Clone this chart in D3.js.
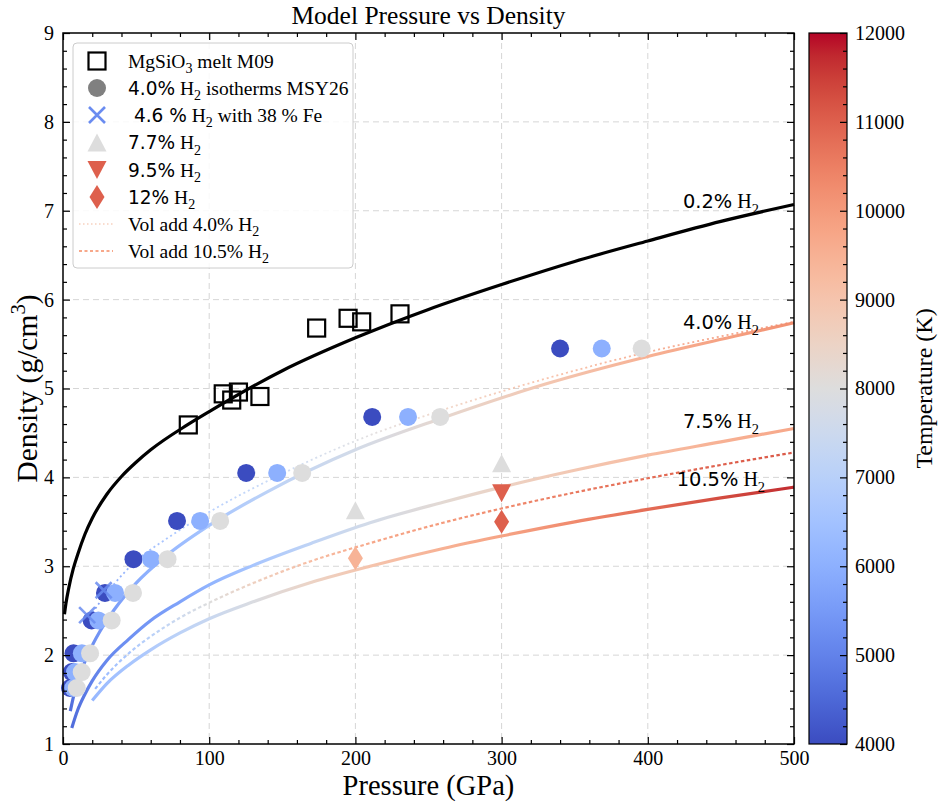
<!DOCTYPE html>
<html><head><meta charset="utf-8">
<script src="https://cdn.jsdelivr.net/npm/d3@7"></script>
<style>body{margin:0;background:#fff} svg text{font-family:'Liberation Serif',serif;fill:#000}</style>
</head><body><svg id="chart" width="939" height="802"></svg>
<script>
// ---------------- DATA ----------------
const xTicks = [0,100,200,300,400,500];
const yTicks = [1,2,3,4,5,6,7,8,9];
const tempTicks = [4000,5000,6000,7000,8000,9000,10000,11000,12000];

// MgSiO3 melt M09 (squares)
const m09P   = [85.7,109.6,115.4,120,134.7,173.5,195,204.3,230.5];
const m09Rho = [4.59,4.94,4.87,4.96,4.91,5.68,5.79,5.75,5.84];

// 4.0% H2 isotherms MSY26 (circles), one pressure row per isotherm
const isoTemps = [4000,6000,8000];
const isoRho   = [1.63,1.81,2.02,2.39,2.70,3.08,3.51,4.05,4.68,5.45];
const isoP4000 = [4.8,6.0,7.2,19.6,28.7,48.2,78.0,125.3,211.5,340];
const isoP6000 = [7.0,8.2,12.9,24.2,35.6,60.2,93.8,146.5,236,368.5];
const isoP8000 = [9.4,12.8,18.5,33.3,47.9,71.5,107.5,163.6,258,395.8];

// 4.6% H2 with 38% Fe (crosses)
const feP = [16.5,27.8], feRho = [2.45,2.73], feT = [5200,5200];
// 7.7% H2 (triangles up)
const h77P = [200,300], h77Rho = [3.63,4.16], h77T = [8000,8000];
// 9.5% H2 (triangles down)
const h95P = [300], h95Rho = [3.82], h95T = [11000];
// 12% H2 (diamonds)
const h12P = [200,300], h12Rho = [3.09,3.50], h12T = [9450,11000];

// model curves
const c02P   = [1,2,4,7,10,15,20,30,40,50,60,85,100,150,200,250,300,350,400,450,500];
const c02Rho = [2.46,2.58,2.76,2.97,3.13,3.36,3.54,3.81,4.01,4.17,4.31,4.59,4.74,5.20,5.57,5.89,6.17,6.43,6.66,6.88,7.07];

const c40P   = [5,8,12,18,25,35,50,70,100,140,200,260,330,400,460,500];
const c40Rho = [1.37,1.59,1.80,2.04,2.26,2.51,2.81,3.11,3.46,3.84,4.31,4.67,5.05,5.36,5.59,5.74];
const c40T   = [4600,4800,5000,5200,5400,5600,5900,6200,6600,7100,7700,8300,8900,9500,9900,10200];

const v40P   = [15,20,25,35,50,70,100,140,200,260,330,400,460,500];
const v40Rho = [2.33,2.47,2.59,2.80,3.06,3.30,3.61,3.96,4.41,4.76,5.11,5.41,5.62,5.75];
const v40T   = [5000,5200,5400,5700,6000,6300,6700,7200,7900,8600,9300,9800,10100,10300];

const c75P   = [6,10,15,20,30,45,60,80,100,130,170,210,260,300,350,400,450,500];
const c75Rho = [1.18,1.38,1.56,1.71,1.94,2.18,2.39,2.60,2.79,3.01,3.26,3.49,3.72,3.89,4.08,4.25,4.40,4.55];
const c75T   = [4600,4700,4850,5000,5150,5300,5450,5700,6100,6600,7200,7700,8200,8500,8900,9200,9500,9700];

const c105P   = [20,30,45,60,80,100,130,170,210,260,300,350,400,450,500];
const c105Rho = [1.49,1.68,1.89,2.06,2.25,2.41,2.60,2.82,3.00,3.20,3.34,3.50,3.64,3.77,3.89];
const c105T   = [6200,6400,6600,6800,7100,7400,7900,8500,9000,9500,9800,10300,10800,11300,11700];

const v105P   = [22,30,45,60,80,100,130,170,210,260,300,350,400,450,500];
const v105Rho = [1.62,1.78,2.02,2.21,2.42,2.59,2.81,3.06,3.26,3.49,3.65,3.83,3.99,4.14,4.28];
const v105T   = [6200,6400,6700,7000,7500,8000,8600,9200,9700,10000,10300,10600,10800,11000,11100];

const curveLabels = ["0.2%","4.0%","7.5%","10.5%"];
const curveLabelP = [450,450,450,450];
const curveLabelRho = [7.03,5.67,4.56,3.90];

// coolwarm colormap stops (style)
const coolwarm = ["#3b4cc0","#445acc","#4d68d7","#5775e1","#6282ea","#6c8ef1","#779af7","#82a5fb","#8db0fe","#98b9ff","#a3c2ff","#aec9fd","#b8d0f9","#c2d5f4","#ccd9ee","#d5dbe6","#dddddd","#e5d8d1","#ecd3c5","#f1ccb9","#f5c4ad","#f7bba0","#f7b194","#f7a687","#f49a7b","#f18d6f","#ec7f63","#e57058","#de604d","#d55042","#cb3e38","#c0282f","#b40426"];

// ---------------- SETUP ----------------
const svg = d3.select("#chart");
const L = 63, R = 794, T = 33, B = 744;
const x = d3.scaleLinear().domain([0,500]).range([L,R]);
const y = d3.scaleLinear().domain([1,9]).range([B,T]);
const tMin = 4000, tMax = 12000;
const cmap = d3.scaleLinear()
  .domain(coolwarm.map((c,i)=> tMin + (tMax-tMin)*i/(coolwarm.length-1)))
  .range(coolwarm).interpolate(d3.interpolateRgb).clamp(true);
const defs = svg.append("defs");
const SERIF = "'Liberation Serif', serif", SANS = "'DejaVu Sans', sans-serif";

function rich(g, parts, size, sansScale) {
  let shift = 0;
  const ss = sansScale || 1;
  parts.forEach(([t,k])=>{
    const ts = g.append("tspan").text(t);
    if (k === "n") ts.style("font-family", SANS);
    else ts.style("font-family", SERIF);
    if (k === "b") { ts.attr("dy", size*0.3 - shift).style("font-size", (size*0.72)+"px"); shift = size*0.3; }
    else if (k === "p") { ts.attr("dy", -size*0.4 - shift).style("font-size", (size*0.7)+"px"); shift = -size*0.4; }
    else { if (shift !== 0) { ts.attr("dy", -shift); shift = 0; } ts.style("font-size", (k==="n"? size*ss : size)+"px"); }
  });
}

// ---------------- GRID ----------------
const grid = svg.append("g");
grid.selectAll(".gx").data(xTicks.slice(1,-1)).join("line")
  .attr("x1",d=>x(d)).attr("x2",d=>x(d)).attr("y1",T).attr("y2",B)
  .attr("stroke","#d6d6d6").attr("stroke-width",1).attr("stroke-dasharray","6,4");
grid.selectAll(".gy").data(yTicks.slice(1,-1)).join("line")
  .attr("y1",d=>y(d)).attr("y2",d=>y(d)).attr("x1",L).attr("x2",R)
  .attr("stroke","#d6d6d6").attr("stroke-width",1).attr("stroke-dasharray","6,4");

// ---------------- CURVES ----------------
const lineGen = d3.line().x(d=>x(d[0])).y(d=>y(d[1])).curve(d3.curveMonotoneX);
function gradFor(id, P, Tarr) {
  const x1 = x(P[0]), x2 = x(P[P.length-1]);
  const gr = defs.append("linearGradient").attr("id", id)
    .attr("gradientUnits","userSpaceOnUse").attr("x1",x1).attr("x2",x2).attr("y1",0).attr("y2",0);
  P.forEach((p,i)=> gr.append("stop").attr("offset",(x(p)-x1)/(x2-x1)).attr("stop-color",cmap(Tarr[i])));
  return "url(#"+id+")";
}
const plot = svg.append("g");
function drawCurve(id, P, Rho, Tarr, w, dash, op) {
  const stroke = Tarr ? gradFor(id, P, Tarr) : "#000";
  plot.append("path").datum(P.map((p,i)=>[p,Rho[i]]))
    .attr("d", lineGen).attr("fill","none").attr("stroke", stroke)
    .attr("stroke-width", w).attr("stroke-dasharray", dash || null)
    .attr("stroke-opacity", op || 1);
}
drawCurve("g02", c02P, c02Rho, null, 3.2);
drawCurve("g40", c40P, c40Rho, c40T, 3.2);
drawCurve("g75", c75P, c75Rho, c75T, 3.2);
drawCurve("g105", c105P, c105Rho, c105T, 3.2);
drawCurve("v40", v40P, v40Rho, v40T, 1.8, "2,3", 0.85);
drawCurve("v105", v105P, v105Rho, v105T, 2.2, "3.5,2.5");

// ---------------- MARKERS ----------------
const mk = svg.append("g");
const sq = 8.5;
mk.selectAll(".sq").data(m09P.map((p,i)=>[p,m09Rho[i]])).join("rect")
  .attr("x",d=>x(d[0])-sq).attr("y",d=>y(d[1])-sq).attr("width",2*sq).attr("height",2*sq)
  .attr("fill","none").attr("stroke","#000").attr("stroke-width",2.2);
[isoP4000, isoP6000, isoP8000].forEach((row,k)=>{
  mk.selectAll(".c"+k).data(row.map((p,i)=>[p,isoRho[i]])).join("circle")
    .attr("cx",d=>x(d[0])).attr("cy",d=>y(d[1])).attr("r",9).attr("fill",cmap(isoTemps[k]));
});
const cr = 8;
feP.forEach((p,i)=>{
  const cx = x(p), cy = y(feRho[i]);
  mk.append("path").attr("d",`M${cx-cr},${cy-cr}L${cx+cr},${cy+cr}M${cx-cr},${cy+cr}L${cx+cr},${cy-cr}`)
    .attr("stroke",cmap(feT[i])).attr("stroke-width",2.6).attr("stroke-opacity",0.85);
});
const triUp = (w,h)=>`M0,${-h}L${w},${h}L${-w},${h}Z`;
const triDn = (w,h)=>`M0,${h}L${w},${-h}L${-w},${-h}Z`;
const dia = (w,h)=>`M0,${-h}L${w},0L0,${h}L${-w},0Z`;
h77P.forEach((p,i)=> mk.append("path").attr("d",triUp(9.5,9)).attr("transform",`translate(${x(p)},${y(h77Rho[i])})`).attr("fill",cmap(h77T[i])));
h95P.forEach((p,i)=> mk.append("path").attr("d",triDn(9.5,9)).attr("transform",`translate(${x(p)},${y(h95Rho[i])})`).attr("fill",cmap(h95T[i])));
h12P.forEach((p,i)=> mk.append("path").attr("d",dia(7.5,12)).attr("transform",`translate(${x(p)},${y(h12Rho[i])})`).attr("fill",cmap(h12T[i])));

// curve labels
curveLabels.forEach((lab,i)=>{
  const t = svg.append("text").attr("x",x(curveLabelP[i])).attr("y",y(curveLabelRho[i])).attr("text-anchor","middle");
  rich(t, [[lab,"n"],[" H","s"],["2","b"]], 20, 0.97);
});

// ---------------- AXES ----------------
function styleAxis(g){ g.select(".domain").remove(); g.selectAll("line").attr("stroke","#000").attr("stroke-width",1.2); g.selectAll("text").style("font-family",SERIF).style("font-size","20px").attr("fill","#000"); }
const minorX = d3.range(0,501,20).filter(v=>v%100!==0);
const minorY = d3.range(10,91,2).map(v=>v/10).filter(v=>Math.abs(v-Math.round(v))>1e-6);
svg.append("g").attr("transform",`translate(0,${B})`).call(d3.axisBottom(x).tickValues(xTicks).tickSize(-7).tickPadding(7)).call(styleAxis);
svg.append("g").attr("transform",`translate(0,${B})`).call(d3.axisBottom(x).tickValues(minorX).tickSize(-4).tickFormat("")).call(styleAxis);
svg.append("g").attr("transform",`translate(0,${T})`).call(d3.axisTop(x).tickValues(xTicks).tickSize(-7).tickFormat("")).call(styleAxis);
svg.append("g").attr("transform",`translate(0,${T})`).call(d3.axisTop(x).tickValues(minorX).tickSize(-4).tickFormat("")).call(styleAxis);
svg.append("g").attr("transform",`translate(${L},0)`).call(d3.axisLeft(y).tickValues(yTicks).tickSize(-7).tickPadding(9)).call(styleAxis);
svg.append("g").attr("transform",`translate(${L},0)`).call(d3.axisLeft(y).tickValues(minorY).tickSize(-4).tickFormat("")).call(styleAxis);
svg.append("g").attr("transform",`translate(${R},0)`).call(d3.axisRight(y).tickValues(yTicks).tickSize(-7).tickFormat("")).call(styleAxis);
svg.append("g").attr("transform",`translate(${R},0)`).call(d3.axisRight(y).tickValues(minorY).tickSize(-4).tickFormat("")).call(styleAxis);
svg.append("rect").attr("x",L).attr("y",T).attr("width",R-L).attr("height",B-T).attr("fill","none").attr("stroke","#000").attr("stroke-width",1.5);

// ---------------- LEGEND ----------------
const lg = svg.append("g");
lg.append("rect").attr("x",73).attr("y",43).attr("width",280).attr("height",225).attr("rx",4)
  .attr("fill","#fff").attr("fill-opacity",0.85).attr("stroke","#cccccc").attr("stroke-width",1);
const rowY = [61,88,115,142.5,170,197,224,251];
const mx = 97, tx = 128;
lg.append("rect").attr("x",mx-sq).attr("y",rowY[0]-sq).attr("width",2*sq).attr("height",2*sq).attr("fill","none").attr("stroke","#000").attr("stroke-width",2.2);
lg.append("circle").attr("cx",mx).attr("cy",rowY[1]).attr("r",9).attr("fill","#808080");
lg.append("path").attr("d",`M${mx-cr},${rowY[2]-cr}L${mx+cr},${rowY[2]+cr}M${mx-cr},${rowY[2]+cr}L${mx+cr},${rowY[2]-cr}`).attr("stroke",cmap(5200)).attr("stroke-width",2.6);
lg.append("path").attr("d",triUp(9.5,9)).attr("transform",`translate(${mx},${rowY[3]})`).attr("fill",cmap(8000));
lg.append("path").attr("d",triDn(9.5,9)).attr("transform",`translate(${mx},${rowY[4]})`).attr("fill",cmap(11000));
lg.append("path").attr("d",dia(7.5,12)).attr("transform",`translate(${mx},${rowY[5]})`).attr("fill",cmap(11000));
lg.append("line").attr("x1",79).attr("x2",113).attr("y1",rowY[6]).attr("y2",rowY[6]).attr("stroke",cmap(9000)).attr("stroke-width",1.6).attr("stroke-dasharray","1.5,2.5").attr("stroke-opacity",0.8);
lg.append("line").attr("x1",79).attr("x2",113).attr("y1",rowY[7]).attr("y2",rowY[7]).attr("stroke",cmap(9700)).attr("stroke-width",2).attr("stroke-dasharray","3,2.5");
const legTexts = [
  [["MgSiO","s"],["3","b"],[" melt M09","s"]],
  [["4.0%","n"],[" H","s"],["2","b"],[" isotherms MSY26","s"]],
  [["\u00a04.6 %","n"],[" H","s"],["2","b"],[" with 38 % Fe","s"]],
  [["7.7%","n"],[" H","s"],["2","b"]],
  [["9.5%","n"],[" H","s"],["2","b"]],
  [["12%","n"],[" H","s"],["2","b"]],
  [["Vol add 4.0% H","s"],["2","b"]],
  [["Vol add 10.5% H","s"],["2","b"]]
];
legTexts.forEach((parts,i)=>{
  const t = lg.append("text").attr("x",tx).attr("y",rowY[i]+6.5).style("white-space","pre");
  rich(t, parts, 19.5, 0.95);
});

// ---------------- TITLES ----------------
svg.append("text").attr("x",(L+R)/2).attr("y",24).attr("text-anchor","middle").style("font-size","25.5px").text("Model Pressure vs Density");
svg.append("text").attr("x",(L+R)/2).attr("y",795).attr("text-anchor","middle").style("font-size","28.5px").text("Pressure (GPa)");
const yl = svg.append("text").attr("transform",`translate(37,${(T+B)/2}) rotate(-90)`).attr("text-anchor","middle");
rich(yl, [["Density (g/cm","s"],["3","p"],[")","s"]], 29.5);

// ---------------- COLORBAR ----------------
const cbL = 809, cbR = 847;
const tScale = d3.scaleLinear().domain([tMin,tMax]).range([B,T]);
const cg = defs.append("linearGradient").attr("id","cbar").attr("x1",0).attr("x2",0).attr("y1",1).attr("y2",0);
coolwarm.forEach((c,i)=> cg.append("stop").attr("offset",i/(coolwarm.length-1)).attr("stop-color",c));
svg.append("rect").attr("x",cbL).attr("y",T).attr("width",cbR-cbL).attr("height",B-T).attr("fill","url(#cbar)");
const minorT = d3.range(tMin, tMax+1, 200).filter(v=>v%1000!==0);
svg.append("g").attr("transform",`translate(${cbR},0)`).call(d3.axisRight(tScale).tickValues(tempTicks).tickSize(-7).tickPadding(8).tickFormat(d3.format("d"))).call(styleAxis);
svg.append("g").attr("transform",`translate(${cbR},0)`).call(d3.axisRight(tScale).tickValues(minorT).tickSize(-4).tickFormat("")).call(styleAxis);
svg.append("rect").attr("x",cbL).attr("y",T).attr("width",cbR-cbL).attr("height",B-T).attr("fill","none").attr("stroke","#000").attr("stroke-width",1.2);
svg.append("text").attr("transform",`translate(932,${(T+B)/2}) rotate(-90)`).attr("text-anchor","middle").style("font-size","24px").text("Temperature (K)");
</script></body></html>
